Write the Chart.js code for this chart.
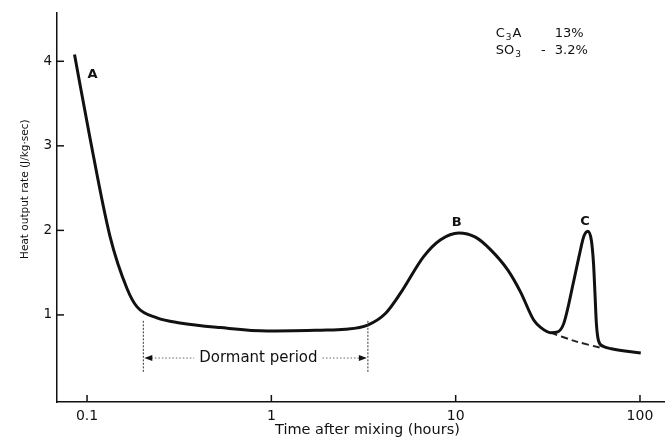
<!DOCTYPE html>
<html><head><meta charset="utf-8">
<script src="https://cdn.jsdelivr.net/npm/chart.js@4/dist/chart.umd.min.js"></script>
<style>html,body{margin:0;padding:0;background:#fff;}#wrap{width:667px;height:439px;}</style>
</head><body><div id="wrap"><canvas id="c" width="667" height="439"></canvas></div>
<script>
// ---- data ----
const hours = [0.0855,0.1038,0.1332,0.1649,0.1868,0.2395,0.3193,0.528,0.951,1.85,2.52,3.33,4.17,5.03,6.70,8.28,10.4,12.8,15.5,19.2,22.5,26.5,29.0,32.8,35.8,38.6,43.8,47.0,49.6,52.2,54.5,56.0,57.0,58.0,59.5,63.0,70.0,101];
const heatRate = [4.08,3.09,1.93,1.31,1.095,0.965,0.905,0.85,0.81,0.82,0.83,0.88,1.02,1.26,1.69,1.89,1.97,1.92,1.77,1.53,1.27,0.94,0.85,0.79,0.80,0.90,1.41,1.72,1.93,1.99,1.88,1.60,1.25,0.90,0.70,0.63,0.60,0.55];
const baselineHours = [32.8,44.4,61.4];
const baselineRate = [0.79,0.69,0.61];
const xTickValues = [0.1,1,10,100];
const xTickLabels = ['0.1','1','10','100'];
const yTickValues = [1,2,3,4];
const yTickLabels = ['1','2','3','4'];
const peakNames = ['A','B','C'];
const dormantLabel = 'Dormant period';
const xTitle = '   Time after mixing (hours)';
const yTitle = '           Heat output rate (J/kg·sec)';

// ---- annotation placement (data coordinates) ----
const place = {
  peaks: [{x:0.107,y:3.84},{x:10.13,y:2.09},{x:50.4,y:2.10}],
  dormant: {start:0.202, end:3.34, top:0.93, bottom:0.31, arrowY:0.49, textX:0.85},
  comp: {x1:16.5, x2:34.5, xDash:29.0, row1:4.33, row2:4.13}
};

const overlay = {
  id:'overlay',
  afterDraw(chart){
    const {ctx, chartArea:a, scales:{x,y}} = chart;
    ctx.save();
    ctx.strokeStyle='#111'; ctx.lineWidth=1.5;
    // inward tick marks
    xTickValues.forEach(v=>{const px=x.getPixelForValue(v);ctx.beginPath();ctx.moveTo(px,a.bottom);ctx.lineTo(px,a.bottom-7);ctx.stroke();});
    yTickValues.forEach(v=>{const py=y.getPixelForValue(v);ctx.beginPath();ctx.moveTo(a.left,py);ctx.lineTo(a.left+7,py);ctx.stroke();});
    // peak letters
    ctx.fillStyle='#111'; ctx.font='bold 13px "DejaVu Sans"'; ctx.textAlign='center'; ctx.textBaseline='middle';
    place.peaks.forEach((p,i)=>ctx.fillText(peakNames[i], x.getPixelForValue(p.x), y.getPixelForValue(p.y)));
    // dormant period
    const d=place.dormant;
    const x0=x.getPixelForValue(d.start), x1=x.getPixelForValue(d.end);
    const yt=y.getPixelForValue(d.top), yb=y.getPixelForValue(d.bottom), ya=y.getPixelForValue(d.arrowY);
    ctx.strokeStyle='#333'; ctx.lineWidth=1; ctx.setLineDash([2,1.5]);
    [x0,x1].forEach(px=>{ctx.beginPath();ctx.moveTo(px,yt);ctx.lineTo(px,yb);ctx.stroke();});
    ctx.font='15px "DejaVu Sans"';
    const tx=x.getPixelForValue(d.textX);
    const tw=ctx.measureText(dormantLabel).width;
    ctx.setLineDash([1.5,2]); ctx.strokeStyle='#666';
    ctx.beginPath();ctx.moveTo(x0+8,ya);ctx.lineTo(tx-tw/2-5,ya);ctx.stroke();
    ctx.beginPath();ctx.moveTo(tx+tw/2+5,ya);ctx.lineTo(x1-8,ya);ctx.stroke();
    ctx.setLineDash([]);
    ctx.fillStyle='#111';
    ctx.beginPath();ctx.moveTo(x0+1,ya);ctx.lineTo(x0+9,ya-3);ctx.lineTo(x0+9,ya+3);ctx.closePath();ctx.fill();
    ctx.beginPath();ctx.moveTo(x1-1,ya);ctx.lineTo(x1-9,ya-3);ctx.lineTo(x1-9,ya+3);ctx.closePath();ctx.fill();
    ctx.fillText(dormantLabel, tx, ya);
    // composition note
    const c=place.comp;
    const cx=x.getPixelForValue(c.x1), vx=x.getPixelForValue(c.x2), dx=x.getPixelForValue(c.xDash);
    const r1=y.getPixelForValue(c.row1), r2=y.getPixelForValue(c.row2);
    ctx.textAlign='left';
    const sub=(parts,px,py)=>{let xx=px;parts.forEach(([t,s])=>{ctx.font=(s?'9px':'13px')+' "DejaVu Sans"';ctx.fillText(t,xx,s?py+4:py);xx+=ctx.measureText(t).width+1;});};
    sub([['C',0],['3',1],['A',0]],cx,r1);
    sub([['SO',0],['3',1]],cx,r2);
    ctx.font='13px "DejaVu Sans"';
    ctx.fillText('13%',vx,r1);
    ctx.fillText('-',dx,r2);
    ctx.fillText('3.2%',vx,r2);
    ctx.restore();
  }
};

Chart.defaults.font.family='"DejaVu Sans"';
Chart.defaults.color='#111';

new Chart(document.getElementById('c'),{
  type:'line',
  data:{datasets:[
    {data:hours.map((h,i)=>({x:h,y:heatRate[i]})),borderColor:'#111',borderWidth:3,pointRadius:0,cubicInterpolationMode:'monotone',fill:false},
    {data:baselineHours.map((h,i)=>({x:h,y:baselineRate[i]})),borderColor:'#222',borderWidth:2,borderDash:[7,4],pointRadius:0,tension:0.3,fill:false}
  ]},
  options:{
    responsive:false, devicePixelRatio:1, animation:false,
    layout:{padding:{top:13,right:3,left:0,bottom:0}},
    plugins:{legend:{display:false},tooltip:{enabled:false}},
    scales:{
      x:{type:'logarithmic',min:0.0687,max:135,
        afterBuildTicks:s=>{s.ticks=xTickValues.map(v=>({value:v}));},
        afterFit:s=>{s.height=37;},
        grid:{display:false,drawTicks:false},
        border:{display:true,color:'#111',width:1.5},
        ticks:{autoSkip:false,maxRotation:0,padding:6,font:{size:14},color:'#111',callback:(v)=>{const i=xTickValues.indexOf(v);return i>=0?xTickLabels[i]:'';}},
        title:{display:true,text:xTitle,font:{size:14.5},color:'#111',padding:{top:0,bottom:0}}
      },
      y:{type:'linear',min:-0.03,max:4.57,
        afterBuildTicks:s=>{s.ticks=yTickValues.map(v=>({value:v}));},
        afterFit:s=>{s.width=57;},
        grid:{display:false,drawTicks:false},
        border:{display:true,color:'#111',width:1.5},
        ticks:{padding:5,font:{size:13.5},color:'#111',callback:(v)=>{const i=yTickValues.indexOf(v);return i>=0?yTickLabels[i]:'';}},
        title:{display:true,text:yTitle,font:{size:10.5},color:'#111',padding:{top:19,bottom:0}}
      }
    }
  },
  plugins:[overlay]
});
</script></body></html>
